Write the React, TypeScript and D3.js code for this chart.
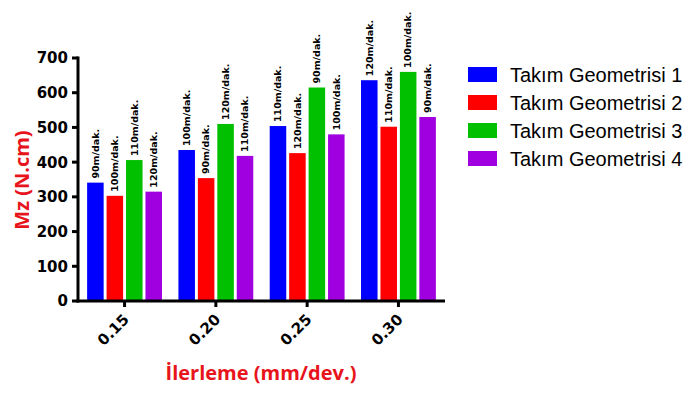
import React from "react";
import * as d3 from "d3";

const categories = ["0.15", "0.20", "0.25", "0.30"];
const seriesNames = ["Takım Geometrisi 1", "Takım Geometrisi 2", "Takım Geometrisi 3", "Takım Geometrisi 4"];
const seriesColors = ["#0000ff", "#ff0000", "#00c000", "#a000e0"];
const geo1 = [341, 435, 504, 636];
const geo2 = [303, 354, 426, 502];
const geo3 = [406, 510, 615, 660];
const geo4 = [315, 418, 480, 530];
const labels1 = ["90m/dak.", "100m/dak.", "110m/dak.", "120m/dak."];
const labels2 = ["100m/dak.", "90m/dak.", "120m/dak.", "110m/dak."];
const labels3 = ["110m/dak.", "120m/dak.", "90m/dak.", "100m/dak."];
const labels4 = ["120m/dak.", "110m/dak.", "100m/dak.", "90m/dak."];
const yTicks = [0, 100, 200, 300, 400, 500, 600, 700];

const seriesValues = [geo1, geo2, geo3, geo4];
const seriesLabels = [labels1, labels2, labels3, labels4];

const W = 698;
const H = 400;
const TITLE_RED = "#e8141c";

export default function App() {
  const x0 = d3.scaleBand<string>().domain(categories).range([78, 445]).paddingInner(0.18).paddingOuter(0.1);
  const x1 = d3.scaleBand<string>().domain(seriesNames).range([0, x0.bandwidth()]).paddingInner(0.15).paddingOuter(0);
  const y = d3.scaleLinear().domain([0, 700]).range([301, 58]);

  const tickFont = "'DejaVu Sans', Verdana, sans-serif";
  const titleFont = "'Open Sans', 'DejaVu Sans', sans-serif";

  return (
    <svg width={W} height={H} style={{ position: "absolute", left: 0, top: 0, background: "#fff" }}>
      {/* bars */}
      {categories.map((c, ci) => (
        <g key={c}>
          {seriesNames.map((s, si) => {
            const v = seriesValues[si][ci];
            const bx = (x0(c) as number) + (x1(s) as number);
            const by = y(v);
            return (
              <g key={s}>
                <rect x={bx} y={by} width={x1.bandwidth()} height={y(0) - by} fill={seriesColors[si]} />
                <text
                  transform={`translate(${bx + x1.bandwidth() / 2},${by - 4}) rotate(-90)`}
                  dy="0.35em"
                  fontFamily={tickFont}
                  fontWeight="bold"
                  fontSize={9.5}
                  fill="#000"
                  textAnchor="start"
                >
                  {seriesLabels[si][ci]}
                </text>
              </g>
            );
          })}
        </g>
      ))}

      {/* y axis */}
      <line x1={78} x2={78} y1={y(700) - 1.5} y2={y(0) + 1.5} stroke="#000" strokeWidth={3} />
      {yTicks.map((t) => (
        <g key={t}>
          <line x1={72} x2={78} y1={y(t)} y2={y(t)} stroke="#000" strokeWidth={3} />
          <text
            x={68}
            y={y(t)}
            dy="0.36em"
            textAnchor="end"
            fontFamily={tickFont}
            fontWeight="bold"
            fontSize={15}
            fill="#000"
          >
            {t}
          </text>
        </g>
      ))}

      {/* x axis */}
      <line x1={76.5} x2={445} y1={y(0)} y2={y(0)} stroke="#000" strokeWidth={3} />
      {categories.map((c) => {
        const cx = (x0(c) as number) + x0.bandwidth() / 2;
        return (
          <g key={c}>
            <line x1={cx} x2={cx} y1={y(0)} y2={y(0) + 6} stroke="#000" strokeWidth={3} />
            <text
              transform={`translate(${cx - 2},${313}) rotate(-45)`}
              dy="0.7em"
              textAnchor="end"
              fontFamily={tickFont}
              fontWeight="bold"
              fontSize={15}
              fill="#000"
            >
              {c}
            </text>
          </g>
        );
      })}

      {/* axis titles */}
      <text
        transform="translate(29,180) rotate(-90)"
        textAnchor="middle"
        fontFamily={titleFont}
        fontWeight="bold"
        fontSize={20}
        fill={TITLE_RED}
      >
        Mz (N.cm)
      </text>
      <text x={261} y={380} textAnchor="middle" fontFamily={titleFont} fontWeight="bold" fontSize={20} fill={TITLE_RED}>
        İlerleme (mm/dev.)
      </text>

      {/* legend */}
      {seriesNames.map((s, i) => (
        <g key={s} transform={`translate(468,${67 + i * 28})`}>
          <rect x={0} y={0} width={29} height={15} fill={seriesColors[i]} />
          <text
            x={42}
            y={7.5}
            dy="0.36em"
            fontFamily="'Liberation Sans', Arial, sans-serif"
            fontSize={20}
            fill="#000"
          >
            {s}
          </text>
        </g>
      ))}
    </svg>
  );
}
